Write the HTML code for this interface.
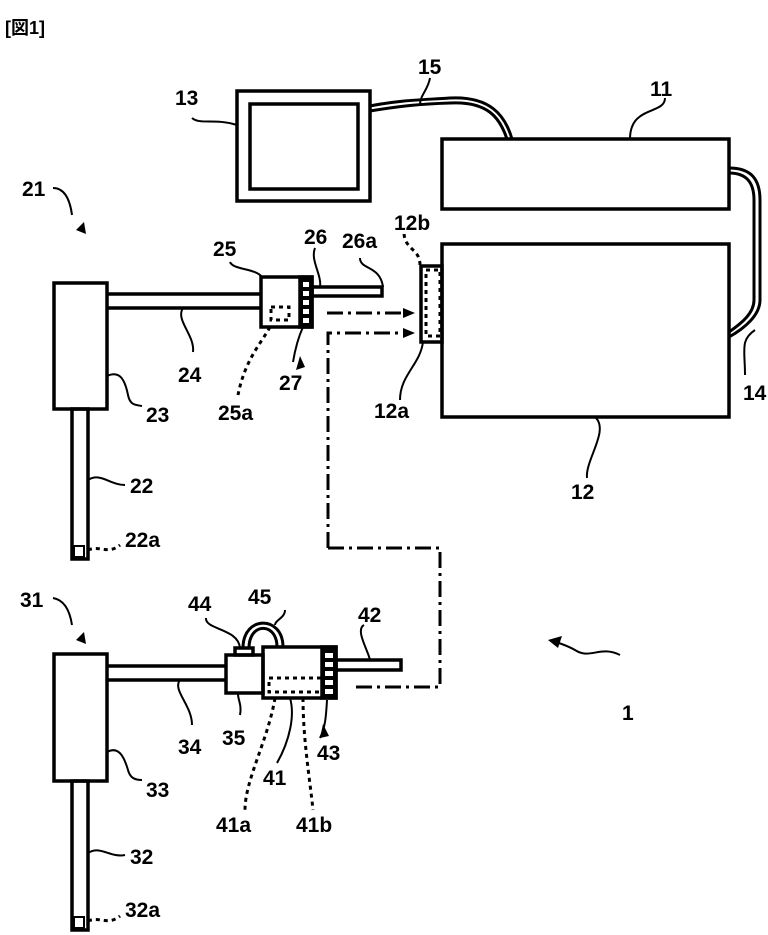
<!DOCTYPE html>
<html><head><meta charset="utf-8"><style>
html,body{margin:0;padding:0;background:#fff;}
svg{display:block;}
text{font-family:"Liberation Sans","Noto Sans CJK JP",sans-serif;font-weight:bold;font-size:21px;fill:#000;}
</style></head><body>
<svg width="768" height="935" viewBox="0 0 768 935" xmlns="http://www.w3.org/2000/svg">
<g fill="none" stroke="#000" stroke-width="3.5">
<rect x="237" y="91" width="133" height="110"/>
<rect x="250" y="104" width="108" height="85"/>
<rect x="442" y="139" width="287" height="70"/>
<rect x="442" y="244" width="287" height="173"/>
<rect x="421" y="266" width="21" height="76"/>
<rect x="54" y="283" width="53" height="126"/>
<rect x="72" y="409" width="16" height="150"/>
<rect x="74" y="546" width="10" height="11" stroke-width="2"/>
<line x1="107" y1="294" x2="261" y2="294"/>
<line x1="107" y1="308" x2="261" y2="308"/>
<rect x="261" y="277" width="51" height="50"/>
<rect x="300" y="277" width="12" height="50" fill="#000"/>
<rect x="312" y="287" width="70" height="9"/>
<rect x="54" y="654" width="53" height="127"/>
<rect x="72" y="781" width="16" height="149"/>
<rect x="74" y="917" width="10" height="11" stroke-width="2"/>
<line x1="107" y1="666" x2="226" y2="666"/>
<line x1="107" y1="680" x2="226" y2="680"/>
<rect x="226" y="655" width="37" height="38"/>
<rect x="235" y="648" width="18" height="7"/>
<rect x="263" y="647" width="73" height="51"/>
<rect x="322" y="647" width="14" height="51" fill="#000"/>
<rect x="336" y="660" width="65" height="10"/>
</g>
<g fill="#fff">
<rect x="303" y="282" width="6" height="5"/><rect x="303" y="291" width="6" height="5"/><rect x="303" y="300" width="6" height="5"/><rect x="303" y="309" width="6" height="5"/><rect x="303" y="318" width="6" height="5"/>
<rect x="325" y="653" width="8" height="5"/><rect x="325" y="662" width="8" height="5"/><rect x="325" y="671" width="8" height="5"/><rect x="325" y="680" width="8" height="5"/><rect x="325" y="689" width="8" height="5"/>
</g>
<g fill="none" stroke="#000" stroke-width="3">
<path d="M370 106 C400 100 420 100 450 98 C490 96 505 115 512 139"/>
<path d="M370 111 C400 106 420 104 450 103 C488 101 500 118 507 139"/>
<path d="M729 168 C750 168 760 178 760 200 L760 300 C760 315 745 328 729 337"/>
<path d="M729 173 C746 173 754 182 754 200 L754 300 C754 313 742 323 729 332"/>
<path d="M243 648 C243 615 283 615 283 647"/>
<path d="M249 648 C249 622 277 622 277 647"/>
</g>
<g fill="none" stroke="#000" stroke-width="3" stroke-dasharray="16,5,3,5">
<line x1="327" y1="313" x2="408" y2="313"/>
<path d="M328 548 L328 333 L408 333"/>
<path d="M328 548 L440 548 L440 687 L353 687"/>
</g>
<g fill="#000">
<polygon points="403,308 415,313 403,318"/>
<polygon points="403,328 415,333 403,338"/>
</g>
<g fill="none" stroke="#000" stroke-width="3" stroke-dasharray="4,4">
<rect x="426" y="270" width="14" height="66"/>
<rect x="271" y="307" width="18" height="13"/>
<rect x="269" y="678" width="54" height="14"/>
</g>
<g fill="none" stroke="#000" stroke-width="2">
<path d="M192 118 C200 125 215 118 237 125"/>
<path d="M430 78 C428 90 420 95 420 105"/>
<path d="M665 98 C665 115 630 105 630 139"/>
<path d="M595 417 C610 430 585 460 587 478"/>
<path d="M745 375 C745 350 740 340 755 330"/>
<path d="M53 188 C65 188 70 200 72 215"/>
<path d="M230 262 C233 270 255 268 262 277"/>
<path d="M315 248 C310 260 322 275 320 287"/>
<path d="M360 258 C360 270 380 265 383 287"/>
<path d="M183 308 C175 320 195 335 193 352"/>
<path d="M107 376 C120 370 125 380 128 395 C130 405 135 405 142 406"/>
<path d="M88 480 C100 472 110 485 125 485"/>
<path d="M53 598 C65 600 70 612 72 625"/>
<path d="M180 680 C172 690 192 705 192 725"/>
<path d="M107 752 C120 745 125 760 128 770 C130 778 135 780 142 780"/>
<path d="M88 853 C100 845 110 858 125 855"/>
<path d="M206 618 C205 630 238 628 240 648"/>
<path d="M285 610 C285 618 275 620 275 625"/>
<path d="M364 625 C355 630 368 650 370 660"/>
<path d="M238 694 C238 700 242 705 240 715"/>
<path d="M290 698 C295 715 290 740 277 763"/>
<path d="M423 342 C420 365 400 375 400 400"/>
<path d="M303 327 C298 338 295 350 293 362"/>
</g>
<g fill="none" stroke="#000" stroke-width="3" stroke-dasharray="4,4">
<path d="M420 265 C420 248 404 250 404 232"/>
<path d="M270 327 C260 345 245 360 238 395"/>
<path d="M275 698 C268 740 245 780 245 810"/>
<path d="M303 698 C303 740 310 780 313 810"/>
<path d="M88 550 C100 545 108 555 120 545"/>
<path d="M88 921 C100 916 108 926 120 916"/>
</g>
<g fill="#000">
<polygon points="76,230 84,222 86,234"/>
<polygon points="76,640 84,632 86,644"/>
<polygon points="296,370 300,356 305,367"/>
<polygon points="320,738 323,724 329,736"/>
<polygon points="548,640 562,636 558,648"/>
</g>
<path d="M620 655 C600 645 590 660 575 650 C568 646 562 644 556 642" fill="none" stroke="#000" stroke-width="2"/>
<path d="M320 738 C325 728 326 718 327 700" fill="none" stroke="#000" stroke-width="2"/>
<text x="5" y="34" style="font-size:18px">[図1]</text>
<text x="175" y="105">13</text>
<text x="418" y="74">15</text>
<text x="650" y="96">11</text>
<text x="22" y="196">21</text>
<text x="394" y="230">12b</text>
<text x="213" y="256">25</text>
<text x="304" y="244">26</text>
<text x="342" y="248">26a</text>
<text x="178" y="382">24</text>
<text x="279" y="390">27</text>
<text x="146" y="422">23</text>
<text x="218" y="420">25a</text>
<text x="374" y="418">12a</text>
<text x="743" y="400">14</text>
<text x="571" y="499">12</text>
<text x="130" y="493">22</text>
<text x="125" y="547">22a</text>
<text x="20" y="607">31</text>
<text x="188" y="611">44</text>
<text x="248" y="604">45</text>
<text x="358" y="622">42</text>
<text x="622" y="720">1</text>
<text x="178" y="754">34</text>
<text x="222" y="745">35</text>
<text x="317" y="760">43</text>
<text x="263" y="785">41</text>
<text x="146" y="797">33</text>
<text x="216" y="832">41a</text>
<text x="296" y="832">41b</text>
<text x="130" y="864">32</text>
<text x="125" y="917">32a</text>
</svg>
</body></html>
